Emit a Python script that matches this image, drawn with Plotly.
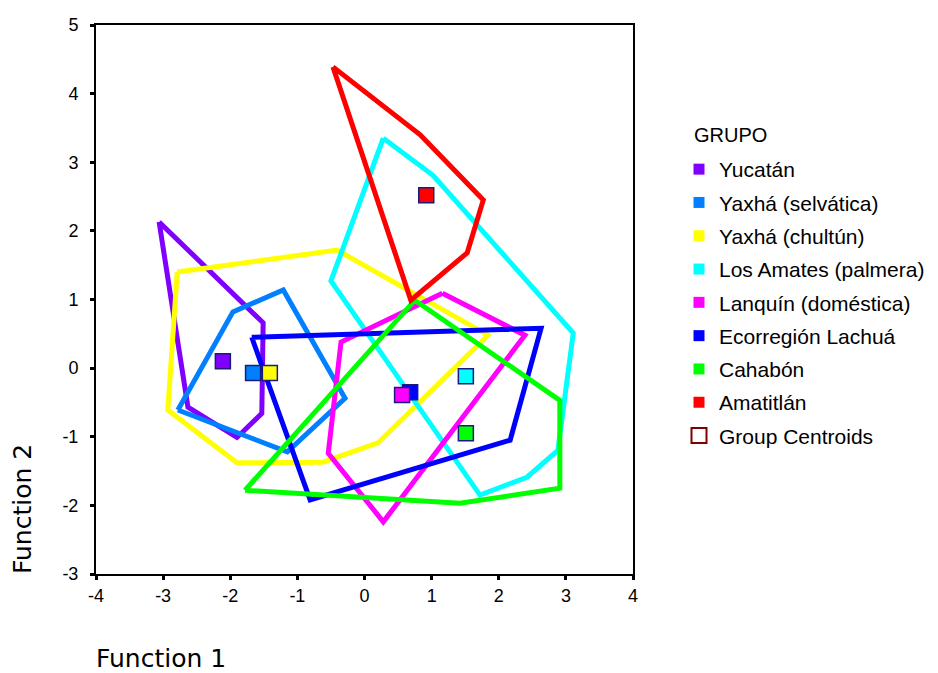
import plotly.graph_objects as go

groups = ["Yucatán", "Yaxhá (selvática)", "Yaxhá (chultún)", "Los Amates (palmera)",
          "Lanquín (doméstica)", "Ecorregión Lachuá", "Cahabón", "Amatitlán"]
colors = ["#8000FF", "#0080FF", "#FFFF00", "#00FFFF", "#FF00FF", "#0000FF", "#00FF00", "#FF0000"]

# territorial map hull vertices (Function 1, Function 2)
yucatan_x = [-3.06, -2.63, -1.90, -1.53, -1.51]
yucatan_y = [2.13, -0.57, -1.01, -0.66, 0.66]
selvatica_x = [-2.78, -1.96, -1.21, -0.29, -1.15]
selvatica_y = [-0.61, 0.82, 1.14, -0.44, -1.22]
chultun_x = [-2.79, -0.41, 1.84, 0.20, -0.62, -1.90, -2.93]
chultun_y = [1.40, 1.72, 0.48, -1.09, -1.37, -1.38, -0.61]
amates_x = [0.28, 1.02, 3.11, 2.88, 2.42, 1.72, -0.50]
amates_y = [3.35, 2.81, 0.51, -1.20, -1.59, -1.85, 1.27]
lanquin_x = [1.16, 2.39, 0.28, -0.54, -0.35]
lanquin_y = [1.09, 0.48, -2.24, -1.24, 0.38]
lachua_x = [-1.68, 2.63, 2.17, -0.81]
lachua_y = [0.45, 0.58, -1.05, -1.92]
cahabon_x = [-1.78, 0.75, 2.91, 2.91, 1.42]
cahabon_y = [-1.78, 0.99, -0.47, -1.75, -1.97]
amatitlan_x = [-0.47, 0.83, 1.77, 1.53, 0.69]
amatitlan_y = [4.39, 3.40, 2.45, 1.68, 0.99]

hulls_x = [yucatan_x, selvatica_x, chultun_x, amates_x, lanquin_x, lachua_x, cahabon_x, amatitlan_x]
hulls_y = [yucatan_y, selvatica_y, chultun_y, amates_y, lanquin_y, lachua_y, cahabon_y, amatitlan_y]

# group centroids
centroid_x = [-2.11, -1.66, -1.41, 1.51, 0.56, 0.68, 1.51, 0.92]
centroid_y = [0.10, -0.07, -0.07, -0.12, -0.39, -0.35, -0.95, 2.52]

x_ticks = [-4, -3, -2, -1, 0, 1, 2, 3, 4]
y_ticks = [-3, -2, -1, 0, 1, 2, 3, 4, 5]

fig = go.Figure()

for name, col, hx, hy in zip(groups, colors, hulls_x, hulls_y):
    fig.add_trace(go.Scatter(
        x=hx + hx[:1], y=hy + hy[:1], mode="lines",
        line=dict(color=col, width=5), showlegend=False, hoverinfo="skip"))

draw_order = [0, 1, 2, 3, 5, 4, 6, 7]
fig.add_trace(go.Scatter(
    x=[centroid_x[i] for i in draw_order],
    y=[centroid_y[i] for i in draw_order],
    mode="markers",
    marker=dict(symbol="square", size=15,
                color=[colors[i] for i in draw_order],
                line=dict(color="#1a1a80", width=1.5)),
    showlegend=False))

# legend entries
for name, col in zip(groups, colors):
    fig.add_trace(go.Scatter(
        x=[None], y=[None], mode="markers", name=name, legendgroup=name,
        marker=dict(symbol="square", size=11, color=col, line=dict(width=0))))
fig.add_trace(go.Scatter(
    x=[None], y=[None], mode="markers", name="Group Centroids", legendgroup="gc",
    marker=dict(symbol="square-open", size=15, color="#800000", line=dict(width=2))))

W, H = 938, 665
PAD = 8  # page body margin

# plot area spans page px 96..633 x 25..574
fig.update_layout(
    width=W, height=H,
    margin=dict(l=96 - PAD, r=W - (633 - PAD), t=25 - PAD, b=H - (574 - PAD)),
    paper_bgcolor="white", plot_bgcolor="white",
    font=dict(family="Liberation Sans, Arial, sans-serif", color="black", size=18),
    showlegend=True,
    legend=dict(xref="container", yref="container",
                x=(679 - PAD) / W, y=1 - (149 - PAD) / H, xanchor="left", yanchor="top",
                traceorder="grouped", tracegroupgap=3,
                font=dict(size=21, family="Liberation Sans, Arial, sans-serif"),
                bgcolor="rgba(0,0,0,0)", itemsizing="trace"),
    annotations=[
        dict(text="GRUPO", x=(692 - 96) / 537, y=(574 - 135) / 549, xref="paper", yref="paper",
             xanchor="left", yanchor="middle", showarrow=False,
             font=dict(size=20, family="Liberation Sans, Arial, sans-serif")),
        dict(text="Function 2", x=(22 - 96) / 537, y=(574 - 509) / 549, xref="paper", yref="paper",
             xanchor="center", yanchor="middle", textangle=-90, showarrow=False,
             font=dict(size=25, family="DejaVu Sans, sans-serif")),
        dict(text="Function 1", x=(161 - 96) / 537, y=(574 - 675) / 549, xref="paper", yref="paper",
             xanchor="center", yanchor="bottom", showarrow=False,
             font=dict(size=25, family="DejaVu Sans, sans-serif")),
    ],
)

fig.update_xaxes(range=[-4, 4], tickvals=x_ticks, ticktext=[str(v) for v in x_ticks],
                 showgrid=False, zeroline=False, showline=True, linecolor="black", linewidth=2,
                 mirror=True, ticks="outside", ticklen=4, tickwidth=3, tickcolor="black",
                 tickfont=dict(size=18), automargin=False)
fig.update_yaxes(range=[-3, 5], tickvals=y_ticks, ticktext=[str(v) for v in y_ticks],
                 showgrid=False, zeroline=False, showline=True, linecolor="black", linewidth=2,
                 mirror=True, ticks="outside", ticklen=4, tickwidth=3, tickcolor="black",
                 tickfont=dict(size=18), ticklabelstandoff=8, automargin=False)

fig.write_html("out.html")
